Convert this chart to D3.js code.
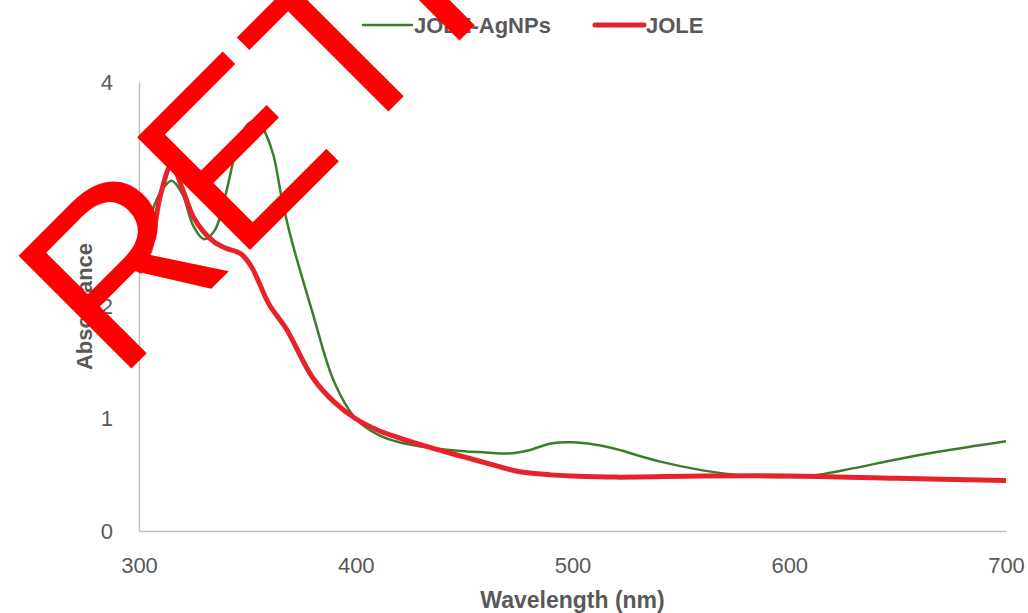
<!DOCTYPE html>
<html>
<head>
<meta charset="utf-8">
<script src="https://cdn.jsdelivr.net/npm/d3@7"></script>
<style>
  body { margin: 0; background: #fff; }
  svg { display: block; font-family: "Liberation Sans", Arial, sans-serif; }
</style>
</head>
<body>
<div id="chart"></div>
<script>
// Data
const agWavelength = [300, 305, 310, 315, 320, 325, 330, 335, 340, 345, 350, 355, 358, 362, 366, 370, 380, 390, 400, 410, 420, 435, 450, 460, 470, 480, 490, 500, 510, 520, 540, 560, 580, 590, 600, 610, 630, 650, 670, 700];
const agAbs = [2.55, 2.80, 3.02, 3.12, 3.00, 2.72, 2.60, 2.68, 3.00, 3.40, 3.62, 3.66, 3.56, 3.35, 2.95, 2.62, 1.95, 1.33, 1.00, 0.86, 0.79, 0.74, 0.71, 0.70, 0.69, 0.72, 0.78, 0.79, 0.77, 0.73, 0.62, 0.54, 0.49, 0.48, 0.48, 0.49, 0.56, 0.64, 0.71, 0.80];

const joleWavelength = [300, 305, 310, 315, 320, 325, 330, 335, 340, 347, 352, 360, 368, 380, 390, 400, 410, 420, 435, 450, 465, 475, 490, 500, 520, 560, 600, 650, 700];
const joleAbs = [2.30, 2.50, 3.00, 3.26, 3.05, 2.80, 2.66, 2.57, 2.52, 2.47, 2.35, 2.02, 1.80, 1.37, 1.15, 1.00, 0.90, 0.83, 0.74, 0.66, 0.58, 0.53, 0.50, 0.49, 0.48, 0.49, 0.49, 0.47, 0.45];

const xTicks = [300, 400, 500, 600, 700];
const yTicks = [0, 1, 2, 3, 4];

const seriesNames = ["JOLE-AgNPs", "JOLE"];
const seriesColors = ["#3b7d2b", "#e8222a"];
const seriesWidths = [2.5, 5];

const width = 1028, height = 613;
const margin = { top: 82, right: 22, bottom: 82, left: 139 };

const svg = d3.select("#chart")
    .append("svg")
    .attr("width", width)
    .attr("height", height);

// Scales
const x = d3.scaleLinear()
    .domain([300, 700])
    .range([margin.left, width - margin.right]);
const y = d3.scaleLinear()
    .domain([0, 4])
    .range([height - margin.bottom, margin.top]);

// Axes
const xAxis = svg.append("g")
    .attr("transform", `translate(0, ${y(0)})`)
    .call(d3.axisBottom(x).tickValues(xTicks).tickSize(0).tickPadding(26));
const yAxis = svg.append("g")
    .attr("transform", `translate(${x(300)}, 0)`)
    .call(d3.axisLeft(y).tickValues(yTicks).tickFormat(d3.format("d")).tickSize(0).tickPadding(26));

[xAxis, yAxis].forEach(a => {
    a.select(".domain").attr("stroke", "#bfbfbf").attr("stroke-width", 1.5);
    a.selectAll("text")
        .attr("fill", "#595959")
        .style("font-size", "22px")
        .style("font-family", "Liberation Sans, Arial, sans-serif");
});

// Axis titles
svg.append("text")
    .attr("x", x(500))
    .attr("y", 608)
    .attr("text-anchor", "middle")
    .attr("fill", "#595959")
    .style("font-size", "23px")
    .style("font-weight", "bold")
    .text("Wavelength (nm)");

svg.append("text")
    .attr("transform", `translate(92, ${y(2)}) rotate(-90)`)
    .attr("text-anchor", "middle")
    .attr("fill", "#595959")
    .style("font-size", "22px")
    .style("font-weight", "bold")
    .text("Absorbance");

// Lines
const line = d3.line()
    .x(d => x(d[0]))
    .y(d => y(d[1]))
    .curve(d3.curveCatmullRom.alpha(0.5));

const series = [
    d3.zip(agWavelength, agAbs),
    d3.zip(joleWavelength, joleAbs)
];

series.forEach((pts, i) => {
    svg.append("path")
        .datum(pts)
        .attr("fill", "none")
        .attr("stroke", seriesColors[i])
        .attr("stroke-width", seriesWidths[i])
        .attr("stroke-linejoin", "round")
        .attr("d", line);
});

// Legend
const legendX = [363, 595];
seriesNames.forEach((name, i) => {
    const g = svg.append("g").attr("transform", `translate(${legendX[i]}, 25)`);
    g.append("line")
        .attr("x1", 0).attr("x2", 49)
        .attr("stroke", seriesColors[i])
        .attr("stroke-width", seriesWidths[i])
        .attr("stroke-linecap", "round");
    g.append("text")
        .attr("x", 51)
        .attr("y", 8)
        .attr("fill", "#595959")
        .style("font-size", "22px")
        .style("font-weight", "bold")
        .text(name);
});

// Retraction stamp over the figure
svg.append("text")
    .attr("transform", "translate(118, 382) rotate(-45)")
    .attr("fill", "#ff0000")
    .style("font-size", "232px")
    .style("font-family", "Liberation Sans, Arial, sans-serif")
    .text("RETRACTED");
</script>
</body>
</html>
